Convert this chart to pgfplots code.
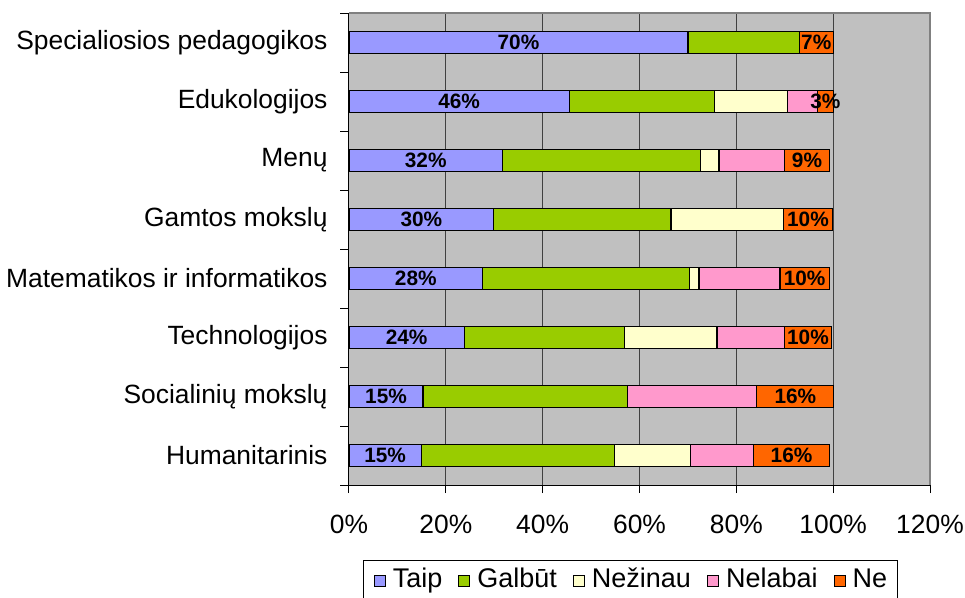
\documentclass[border=0pt]{standalone}
\usepackage{fontspec}
\setmainfont{Liberation Sans}
\usepackage{pgfplots}
\pgfplotsset{compat=1.18}
\definecolor{cTaip}{RGB}{153,153,255}
\definecolor{cGal}{RGB}{153,204,0}
\definecolor{cNez}{RGB}{255,255,204}
\definecolor{cNel}{RGB}{255,153,204}
\definecolor{cNe}{RGB}{255,102,0}
\definecolor{bg}{RGB}{192,192,192}
\definecolor{gridc}{RGB}{64,64,64}
\definecolor{bordc}{RGB}{128,128,128}
\pgfplotsset{sq legend/.style={legend image code/.code={\draw[##1,line width=1bp] (0bp,-5.5bp) rectangle (11bp,5.5bp);}}}
\tikzset{barlbl/.style={font=\bfseries\fontsize{20.8bp}{24bp}\selectfont, inner sep=0pt}}
\tikzset{ytk/.style={draw=black, line width=1bp}}
\begin{document}
\begin{tikzpicture}
\begin{axis}[
  name=ax,
  xbar stacked,
  width=581bp, height=472bp, scale only axis,
  xmin=0, xmax=120, ymin=-0.5, ymax=7.5, y dir=reverse,
  bar width=22bp,
  axis background/.style={fill=bg},
  axis line style={draw=none},
  xtick={0,20,...,120}, xtick pos=left, tick align=outside, major tick length=8bp,
  xmajorgrids, grid style={draw=gridc, line width=1bp},
  xticklabel={\pgfmathprintnumber{\tick}\%},
  xticklabel style={yshift=-19bp},
  ytick={0,...,7},
  yticklabels={Specialiosios pedagogikos, Edukologijos, Menų, Gamtos mokslų, Matematikos ir informatikos, Technologijos, Socialinių mokslų, Humanitarinis},
  yticklabel style={xshift=-10bp},
  ytick pos=left,
  tick style={black, line width=1bp},
  ytick style={draw=none},
  ticklabel style={font=\fontsize{26.4bp}{30bp}\selectfont},
  /pgf/number format/assume math mode=true,
  clip=false,
  legend columns=-1,
  legend style={at={(0.4845,0)}, anchor=north, yshift=-75bp, draw=black, line width=1bp,
    inner xsep=10bp, inner ysep=8bp,
    nodes={inner xsep=0pt, inner ysep=0pt, text height=19bp, text depth=5bp},
    font=\fontsize{27bp}{30bp}\selectfont,
    /tikz/every even column/.append style={column sep=16bp},
    /tikz/every odd column/.append style={column sep=7bp}},
  after end axis/.code={
    \draw[bordc, line width=1.5bp] (axis cs:0,-0.5) -- (axis cs:120,-0.5) -- (axis cs:120,7.5);
    \draw[black, line width=1bp] (axis cs:0,-0.5) -- (axis cs:0,7.5);
    \draw[black, line width=1bp] (axis cs:0,7.5) -- (axis cs:120,7.5);
    \draw[ytk] (axis cs:0,-0.5) -- ([xshift=-9bp]axis cs:0,-0.5);
    \draw[ytk] (axis cs:0,0.5) -- ([xshift=-9bp]axis cs:0,0.5);
    \draw[ytk] (axis cs:0,1.5) -- ([xshift=-9bp]axis cs:0,1.5);
    \draw[ytk] (axis cs:0,2.5) -- ([xshift=-9bp]axis cs:0,2.5);
    \draw[ytk] (axis cs:0,3.5) -- ([xshift=-9bp]axis cs:0,3.5);
    \draw[ytk] (axis cs:0,4.5) -- ([xshift=-9bp]axis cs:0,4.5);
    \draw[ytk] (axis cs:0,5.5) -- ([xshift=-9bp]axis cs:0,5.5);
    \draw[ytk] (axis cs:0,6.5) -- ([xshift=-9bp]axis cs:0,6.5);
    \draw[ytk] (axis cs:0,7.5) -- ([xshift=-9bp]axis cs:0,7.5);
    \node[barlbl] at (axis cs:35,0) {70\%};
    \node[barlbl] at (axis cs:96.5,0) {7\%};
    \node[barlbl] at (axis cs:22.75,1) {46\%};
    \node[barlbl] at (axis cs:98.4,1) {3\%};
    \node[barlbl] at (axis cs:15.85,2) {32\%};
    \node[barlbl] at (axis cs:94.6,2) {9\%};
    \node[barlbl] at (axis cs:14.95,3) {30\%};
    \node[barlbl] at (axis cs:94.8,3) {10\%};
    \node[barlbl] at (axis cs:13.8,4) {28\%};
    \node[barlbl] at (axis cs:94.1,4) {10\%};
    \node[barlbl] at (axis cs:11.9,5) {24\%};
    \node[barlbl] at (axis cs:94.8,5) {10\%};
    \node[barlbl] at (axis cs:7.65,6) {15\%};
    \node[barlbl] at (axis cs:92.2,6) {16\%};
    \node[barlbl] at (axis cs:7.45,7) {15\%};
    \node[barlbl] at (axis cs:91.4,7) {16\%};
  },
]
\addplot[fill=cTaip, draw=black, line width=1.2bp, sq legend] coordinates {
 (70,0) (45.5,1) (31.7,2) (29.9,3) (27.6,4) (23.8,5) (15.3,6) (14.9,7)};
\addlegendentry{Taip}
\addplot[fill=cGal, draw=black, line width=1.2bp, sq legend] coordinates {
 (23,0) (30,1) (40.9,2) (36.6,3) (42.7,4) (33.1,5) (42.2,6) (40.0,7)};
\addlegendentry{Galbūt}
\addplot[fill=cNez, draw=black, line width=1.2bp, sq legend] coordinates {
 (0,0) (15,1) (3.8,2) (23.2,3) (2.0,4) (19.1,5) (0,6) (15.6,7)};
\addlegendentry{Nežinau}
\addplot[fill=cNel, draw=black, line width=1.2bp, sq legend] coordinates {
 (0,0) (6.3,1) (13.6,2) (0,3) (16.7,4) (14.0,5) (26.7,6) (13.0,7)};
\addlegendentry{Nelabai}
\addplot[fill=cNe, draw=black, line width=1.2bp, sq legend] coordinates {
 (7,0) (3.2,1) (9.2,2) (10.2,3) (10.2,4) (9.6,5) (15.9,6) (15.7,7)};
\addlegendentry{Ne}
\end{axis}
\pgfresetboundingbox
\path (ax.south west) +(-349bp,-113bp) (ax.north east) +(35bp,13bp);
\end{tikzpicture}
\end{document}
